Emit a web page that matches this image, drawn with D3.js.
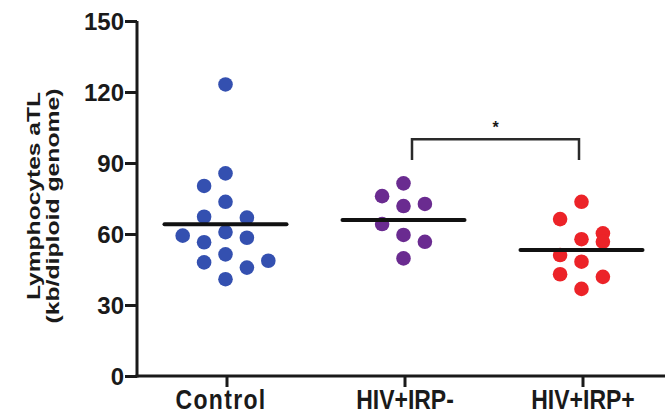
<!DOCTYPE html>
<html>
<head>
<meta charset="utf-8">
<script src="https://cdn.jsdelivr.net/npm/d3@7"></script>
<style>
  html, body { margin: 0; padding: 0; background: #fff; }
  svg { display: block; }
  text { font-family: "Liberation Sans", Arial, sans-serif; font-weight: bold; fill: #1a1a1a; }
</style>
</head>
<body>
<svg id="chart" width="665" height="415"></svg>
<script>
// ---- data ----
const categories = ["Control", "HIV+IRP-", "HIV+IRP+"];
// each point: value and its swarm column
const controlValues = [123.2, 85.6, 80.3, 73.6, 67.3, 66.9, 59.3, 60.8, 56.5, 58.4, 51.4, 48.0, 45.8, 48.7, 40.9];
const controlColumns = [0, 0, -1, 0, -1, 1, -2, 0, -1, 1, 0, -1, 1, 2, 0];
const irpNegValues = [81.4, 76.0, 71.8, 72.7, 64.2, 59.6, 56.7, 49.7];
const irpNegColumns = [0, -1, 0, 1, -1, 0, 1, 0];
const irpPosValues = [73.6, 66.3, 57.8, 60.3, 56.7, 51.1, 48.3, 43.0, 41.9, 36.8];
const irpPosColumns = [0, -1, 0, 1, 1, -1, 0, -1, 1, 0];
const groupMeans = [64.1, 65.9, 53.2];
const yTicks = [0, 30, 60, 90, 120, 150];
const yLabelLines = ["Lymphocytes aTL", "(kb/diploid genome)"];
const significance = { from: "HIV+IRP-", to: "HIV+IRP+", top: 100, bottom: 91.3, label: "*" };

const colors = ["#3450b0", "#6a2b90", "#ec2328"];
const groups = [
  { cat: categories[0], values: controlValues, cols: controlColumns },
  { cat: categories[1], values: irpNegValues, cols: irpNegColumns },
  { cat: categories[2], values: irpPosValues, cols: irpPosColumns }
];

// ---- layout ----
const svg = d3.select("#chart");
const x = d3.scaleBand().domain(categories).range([138, 672]).padding(0);
const y = d3.scaleLinear().domain([0, 150]).range([376, 21]);
const cx = c => x(c) + x.bandwidth() / 2;
const colStep = 21.4, shift = -1.5, meanHalf = 61;

// axes
const yAxis = d3.axisLeft(y).tickValues(yTicks).tickSize(12).tickSizeOuter(0).tickPadding(1);
const gy = svg.append("g").attr("transform", "translate(137,0)").call(yAxis);
gy.select(".domain").attr("stroke", "#1a1a1a").attr("stroke-width", 3)
  .attr("d", `M0,${y(150)}V${y(0) + 1.5}`);
gy.selectAll(".tick line").attr("stroke", "#1a1a1a").attr("stroke-width", 3);
gy.selectAll(".tick text").style("font-size", "24px").attr("fill", "#1a1a1a")
  .attr("font-family", null).attr("font-size", null).attr("dy", "0.36em");

const xAxis = d3.axisBottom(x).tickSize(11).tickSizeOuter(0).tickPadding(0);
const gx = svg.append("g").attr("transform", `translate(0,${y(0)})`).call(xAxis);
gx.select(".domain").attr("stroke", "#1a1a1a").attr("stroke-width", 3)
  .attr("d", `M135.5,0H672`);
gx.selectAll(".tick line").attr("stroke", "#1a1a1a").attr("stroke-width", 3);
gx.selectAll(".tick text").remove();
gx.selectAll(".tick").append("text")
  .attr("text-anchor", "middle")
  .attr("transform", (d, i) => `translate(${i === 0 ? -6 : 0},33) scale(1,1.2)`)
  .attr("letter-spacing", (d, i) => i === 0 ? "1.3px" : null)
  .style("font-size", "23px")
  .attr("fill", "#1a1a1a")
  .text(d => d);

// y label
const lab = svg.append("g").attr("transform", "translate(0,200) rotate(-90)");
lab.append("text").attr("x", 4).attr("y", 40).attr("text-anchor", "middle")
  .attr("textLength", 208).attr("lengthAdjust", "spacingAndGlyphs")
  .style("font-size", "18px").text(yLabelLines[0]);
lab.append("text").attr("x", -6).attr("y", 59).attr("text-anchor", "middle")
  .attr("textLength", 235).attr("lengthAdjust", "spacingAndGlyphs")
  .style("font-size", "18px").text(yLabelLines[1]);

// points
groups.forEach((g, gi) => {
  svg.append("g").selectAll("circle")
    .data(g.values.map((v, i) => ({ v, c: g.cols[i] })))
    .join("circle")
    .attr("cx", d => cx(g.cat) + shift + d.c * colStep)
    .attr("cy", d => y(d.v))
    .attr("r", 7.3)
    .attr("fill", colors[gi]);
});

// mean lines
svg.append("g").selectAll("line")
  .data(categories.map((c, i) => ({ c, m: groupMeans[i] })))
  .join("line")
  .attr("x1", d => cx(d.c) + shift - meanHalf)
  .attr("x2", d => cx(d.c) + shift + meanHalf)
  .attr("y1", d => y(d.m)).attr("y2", d => y(d.m))
  .attr("stroke", "#111").attr("stroke-width", 4).attr("stroke-linecap", "round");

// significance bracket
const bx1 = cx(significance.from) + 7, bx2 = cx(significance.to) - 4;
svg.append("path")
  .attr("d", `M${bx1},${y(significance.bottom)}V${y(significance.top)}H${bx2}V${y(significance.bottom)}`)
  .attr("fill", "none").attr("stroke", "#2a2a2a").attr("stroke-width", 2.5);
svg.append("text").attr("x", (bx1 + bx2) / 2).attr("y", y(significance.top) - 6)
  .attr("text-anchor", "middle").style("font-size", "16px").text(significance.label);
</script>
</body>
</html>
